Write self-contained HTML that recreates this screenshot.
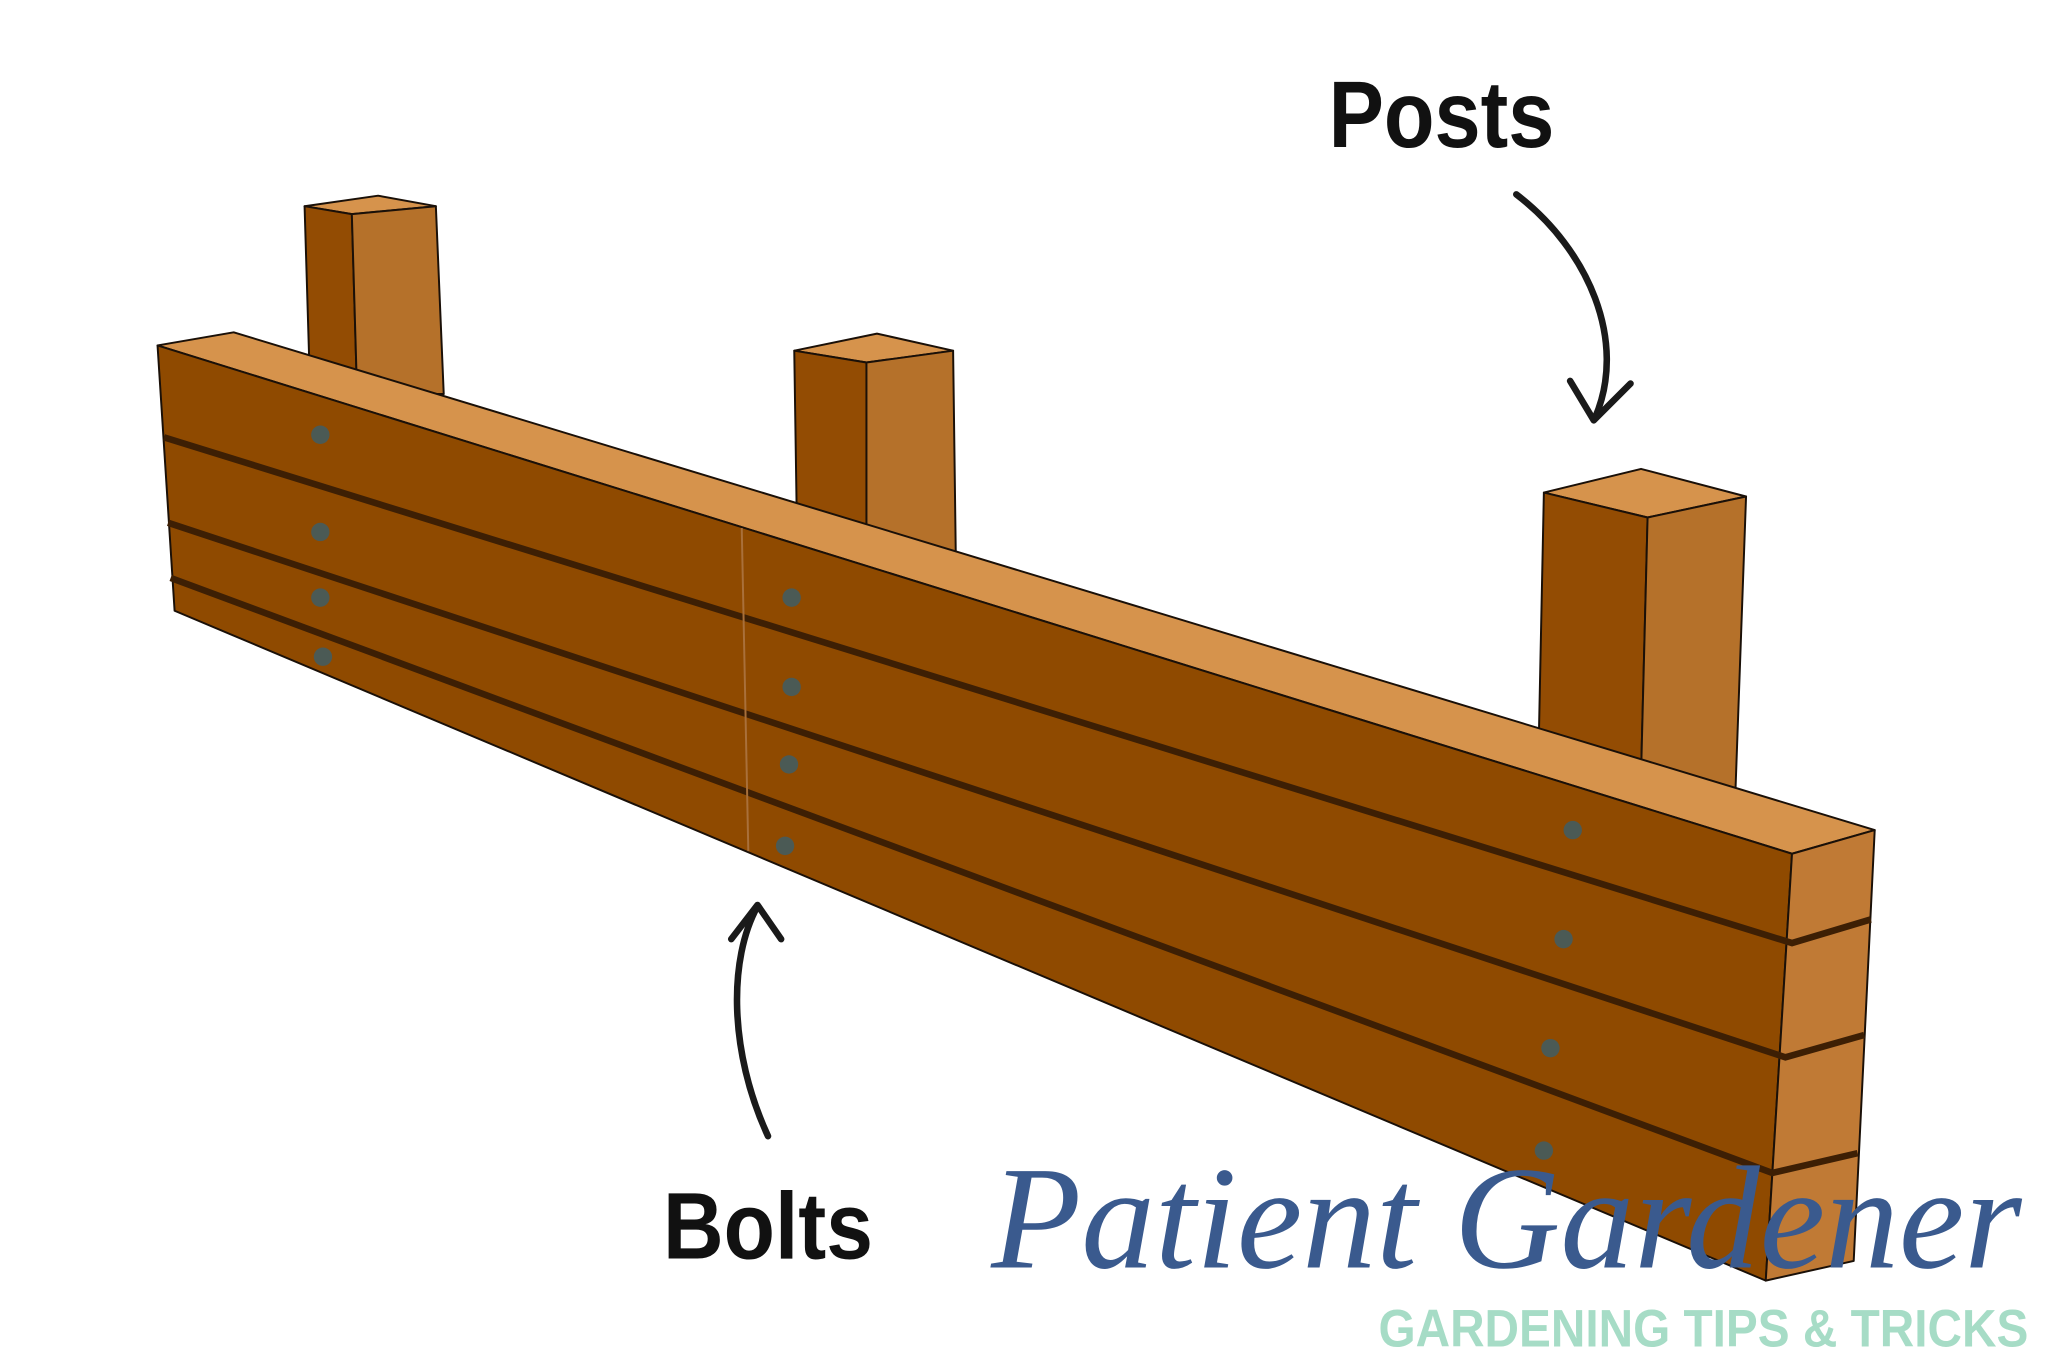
<!DOCTYPE html>
<html><head><meta charset="utf-8"><style>
html,body{margin:0;padding:0;background:#fff;}
svg{display:block;}
</style></head><body>
<svg width="2048" height="1366" viewBox="0 0 1560 1040" preserveAspectRatio="none" xmlns="http://www.w3.org/2000/svg">
<rect width="1560" height="1040" fill="#fff"/>
<g stroke="#1a1008" stroke-width="1.5" stroke-linejoin="round">
<polygon points="232,157 288,149 332,157 268,163" fill="#d6934c"/>
<polygon points="232,157 268,163 272,300 236,290" fill="#934c03"/>
<polygon points="268,163 332,157 338,300 272,300" fill="#b5712a"/>
<polygon points="605,267 668,254 726,267 660,276" fill="#d6934c"/>
<polygon points="605,267 660,276 660,410 607,400" fill="#934c03"/>
<polygon points="660,276 726,267 728,420 660,410" fill="#b5712a"/>
<polygon points="1176,375 1250,357 1330,378 1255,394" fill="#d6934c"/>
<polygon points="1176,375 1255,394 1250,590 1172,570" fill="#934c03"/>
<polygon points="1255,394 1330,378 1322,600 1250,590" fill="#b5712a"/>
<polygon points="120,263 178,253 1428,632 1365,650" fill="#d6934c"/>
<polygon points="120,263 1365,650 1345,975 133,465" fill="#8f4a00"/>
<polygon points="1365,650 1428,632 1412,960 1345,975" fill="#c07a35"/>
</g>
<g stroke="#3d1f04" stroke-width="5" fill="none">
<polyline points="125,333 1365,718 1425,700"/>
<polyline points="128,398 1360,805 1420,788"/>
<polyline points="130,440 1350,893 1415,878"/>
</g>
<line x1="565" y1="402" x2="570" y2="648" stroke="#a9703a" stroke-width="1.5"/>
<g fill="#4b5a55">
<circle cx="244" cy="331" r="7"/><circle cx="244" cy="405" r="7"/><circle cx="244" cy="455" r="7"/><circle cx="246" cy="500" r="7"/>
<circle cx="603" cy="455" r="7"/><circle cx="603" cy="523" r="7"/><circle cx="601" cy="582" r="7"/><circle cx="598" cy="644" r="7"/>
<circle cx="1198" cy="632" r="7"/><circle cx="1191" cy="715" r="7"/><circle cx="1181" cy="798" r="7"/><circle cx="1176" cy="876" r="7"/>
</g>
<g stroke="#1a1a1a" stroke-width="5" fill="none" stroke-linecap="round" stroke-linejoin="round">
<path d="M1155,148 C1210,190 1240,260 1215,318"/>
<polyline points="1196,290 1214,320 1242,292"/>
<path d="M585,865 C555,800 555,730 577,690"/>
<polyline points="557,715 577,689 595,715"/>
</g>
<text x="1012" y="112" font-family="Liberation Sans, sans-serif" font-weight="bold" font-size="72" fill="#111" textLength="172" lengthAdjust="spacingAndGlyphs">Posts</text>
<text x="505" y="958" font-family="Liberation Sans, sans-serif" font-weight="bold" font-size="72" fill="#111" textLength="160" lengthAdjust="spacingAndGlyphs">Bolts</text>
<text x="755" y="965" font-family="Liberation Serif, serif" font-style="italic" font-size="112" fill="#3a5a8e" textLength="785" lengthAdjust="spacingAndGlyphs">Patient Gardener</text>
<text x="1050" y="1025" font-family="Liberation Sans, sans-serif" font-weight="bold" font-size="40" fill="#a6dcc6" textLength="495" lengthAdjust="spacingAndGlyphs">GARDENING TIPS &amp; TRICKS</text>
</svg>
</body></html>
